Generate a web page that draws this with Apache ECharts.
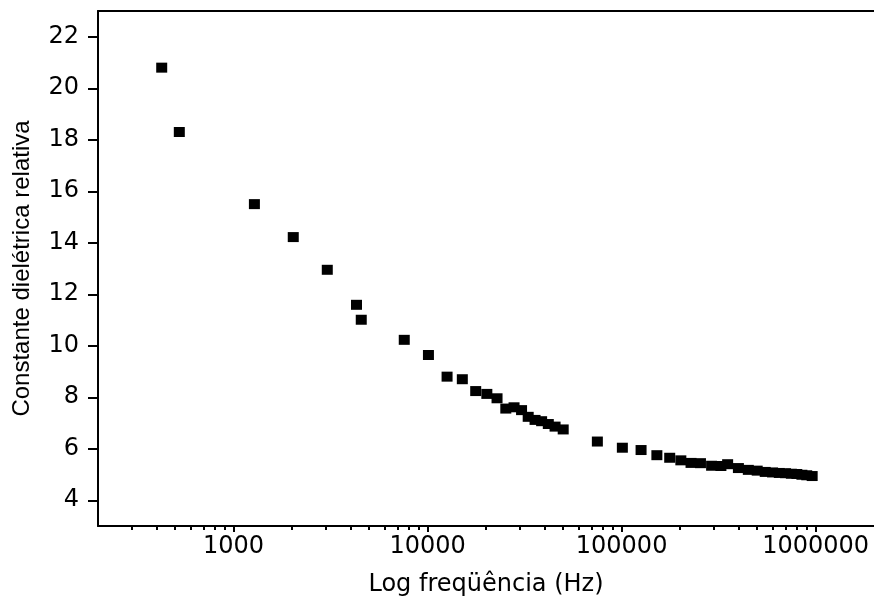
<!DOCTYPE html>
<html>
<head>
<meta charset="utf-8">
<script src="https://cdn.jsdelivr.net/npm/echarts@6/dist/echarts.min.js"></script>
<style>
html,body{margin:0;padding:0;background:#fff;}
#chart{width:874px;height:602px;}
</style>
</head>
<body>
<div id="chart"></div>
<script>
// Frequency (Hz)
var frequency = [426, 525, 1280, 2030, 3040, 4300, 4550, 7580, 10100, 12600, 15100, 17700, 20200, 22800, 25300, 27900, 30500, 33000, 35800, 38700, 41900, 45400, 50000, 75000, 100900, 126000, 152000, 177000, 202000, 228000, 255000, 291000, 325000, 352000, 400000, 450000, 500000, 550000, 600000, 650000, 700000, 750000, 800000, 850000, 900000, 960000];
// Relative dielectric constant
var permittivity = [20.80, 18.30, 15.50, 14.22, 12.95, 11.59, 11.01, 10.23, 9.64, 8.80, 8.70, 8.24, 8.13, 7.96, 7.56, 7.61, 7.50, 7.24, 7.12, 7.07, 6.96, 6.86, 6.75, 6.28, 6.04, 5.95, 5.75, 5.65, 5.55, 5.45, 5.44, 5.34, 5.33, 5.40, 5.25, 5.18, 5.15, 5.10, 5.08, 5.06, 5.05, 5.03, 5.02, 4.99, 4.97, 4.94];

var xMajorTicks = [1000, 10000, 100000, 1000000];
var xMinorTicks = [300, 400, 500, 600, 700, 800, 900,
  2000, 3000, 4000, 5000, 6000, 7000, 8000, 9000,
  20000, 30000, 40000, 50000, 60000, 70000, 80000, 90000,
  200000, 300000, 400000, 500000, 600000, 700000, 800000, 900000];
var yTicks = [4, 6, 8, 10, 12, 14, 16, 18, 20, 22];

var xTitle = 'Log freqüência (Hz)';
var yTitle = 'Constante dielétrica relativa';

var points = frequency.map(function (f, i) { return [f, permittivity[i]]; });

var chart = echarts.init(document.getElementById('chart'));
var lineStyle = { color: '#000', width: 2 };
var option = {
  animation: false,
  backgroundColor: '#fff',
  grid: { left: 98, top: 11, width: 776, height: 515, outerBoundsMode: 'none' },
  xAxis: [
    {
      type: 'log', logBase: 10, min: 200, max: 2000000, position: 'bottom',
      axisLine: { show: true, lineStyle: lineStyle },
      axisTick: { show: true, inside: false, length: 6, customValues: xMajorTicks, lineStyle: { color: '#000', width: 2 } },
      axisLabel: {
        show: true, customValues: xMajorTicks, margin: 9,
        fontFamily: 'DejaVu Sans', fontSize: 24, color: '#000',
        formatter: function (v) { return String(Math.round(v)); }
      },
      splitLine: { show: false },
      minorTick: { show: false },
      name: xTitle, nameLocation: 'middle', nameGap: 47, nameMoveOverlap: false,
      nameTextStyle: { fontFamily: 'DejaVu Sans', fontSize: 24, color: '#000' }
    },
    {
      type: 'log', logBase: 10, min: 200, max: 2000000, position: 'bottom',
      axisLine: { show: false },
      axisTick: { show: true, inside: false, length: 4, customValues: xMinorTicks, lineStyle: { color: '#000', width: 2 } },
      axisLabel: { show: false },
      splitLine: { show: false }
    },
    {
      type: 'log', logBase: 10, min: 200, max: 2000000, position: 'top',
      axisLine: { show: true, lineStyle: lineStyle },
      axisTick: { show: false },
      axisLabel: { show: false },
      splitLine: { show: false }
    }
  ],
  yAxis: {
    type: 'value', min: 3, max: 23, position: 'left',
    axisLine: { show: true, lineStyle: lineStyle },
    axisTick: { show: true, inside: false, length: 10, customValues: yTicks, lineStyle: { color: '#000', width: 2 } },
    axisLabel: {
      show: true, customValues: yTicks, margin: 19,
      fontFamily: 'DejaVu Sans', fontSize: 24, color: '#000'
    },
    splitLine: { show: false },
    name: yTitle, nameLocation: 'middle', nameGap: 64, nameMoveOverlap: false,
    nameRotate: 90,
    nameTextStyle: { fontFamily: 'Liberation Sans', fontSize: 24, color: '#000' }
  },
  series: [{
    type: 'scatter',
    xAxisIndex: 0,
    data: points,
    symbol: 'rect',
    symbolSize: [11, 10],
    itemStyle: { color: '#000', opacity: 1 }
  }]
};
chart.setOption(option);
</script>
</body>
</html>
